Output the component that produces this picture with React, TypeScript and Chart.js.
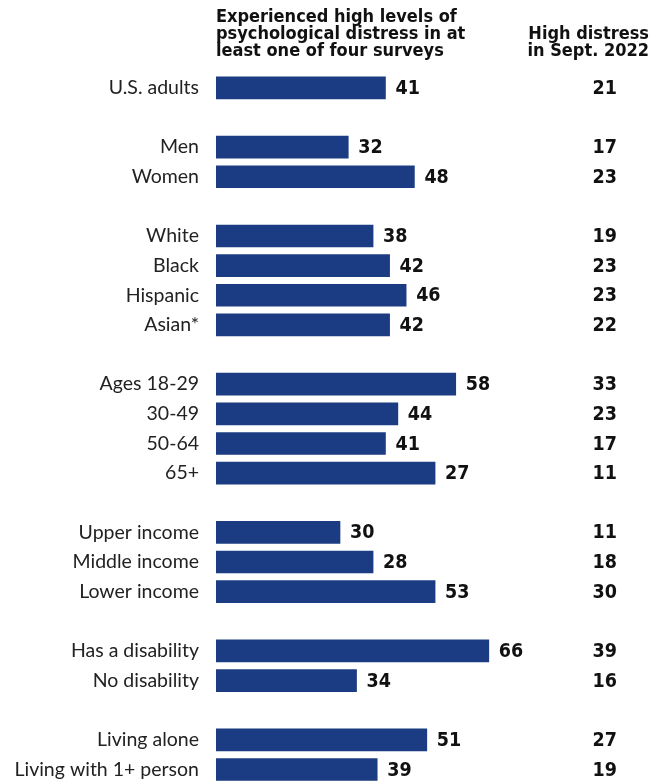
import React, { useEffect, useRef } from "react";
import { Chart, registerables } from "chart.js";

Chart.register(...registerables);

const categories: string[] = [
  "U.S. adults", "",
  "Men", "Women", "",
  "White", "Black", "Hispanic", "Asian*", "",
  "Ages 18-29", "30-49", "50-64", "65+", "",
  "Upper income", "Middle income", "Lower income", "",
  "Has a disability", "No disability", "",
  "Living alone", "Living with 1+ person",
];

// bar lengths as drawn in the picture
const barValues: (number | null)[] = [
  41, null,
  32, 48, null,
  38, 42, 46, 42, null,
  58, 44, 41, 53, null,
  30, 38, 53, null,
  66, 34, null,
  51, 39,
];

// printed numbers next to the bars
const valueLabels: string[] = [
  "41", "",
  "32", "48", "",
  "38", "42", "46", "42", "",
  "58", "44", "41", "27", "",
  "30", "28", "53", "",
  "66", "34", "",
  "51", "39",
];

// right column: high distress in Sept. 2022
const septLabels: string[] = [
  "21", "",
  "17", "23", "",
  "19", "23", "23", "22", "",
  "33", "23", "17", "11", "",
  "11", "18", "30", "",
  "39", "16", "",
  "27", "19",
];

const leftHeader: string[] = [
  "Experienced high levels of",
  "psychological distress in at",
  "least one of four surveys",
];
const rightHeader: string[] = ["High distress", "in Sept. 2022"];

const BAR_COLOR = "#1b3c82";
const BOLD_FONT = "bold 19.5px 'DejaVu Sans Condensed', 'DejaVu Sans', sans-serif";
const HEAD_FONT = "bold 18px 'DejaVu Sans Condensed', 'DejaVu Sans', sans-serif";

const textPlugin = {
  id: "textPlugin",
  afterDatasetsDraw(chart: any) {
    const ctx = chart.ctx;
    const meta = chart.getDatasetMeta(0);
    ctx.save();
    ctx.fillStyle = "#111";
    ctx.textBaseline = "middle";
    ctx.font = BOLD_FONT;
    meta.data.forEach((bar: any, i: number) => {
      if (barValues[i] == null) return;
      ctx.textAlign = "left";
      ctx.fillText(valueLabels[i], bar.x + 10, bar.y + 1);
      ctx.textAlign = "right";
      ctx.fillText(septLabels[i], 617, bar.y + 1);
    });
    ctx.font = HEAD_FONT;
    ctx.textAlign = "left";
    leftHeader.forEach((t, i) => ctx.fillText(t, chart.chartArea.left, 17 + i * 17));
    ctx.textAlign = "right";
    rightHeader.forEach((t, i) => ctx.fillText(t, 649, 34 + i * 17));
    ctx.restore();
  },
};

export default function App() {
  const ref = useRef<HTMLCanvasElement | null>(null);
  useEffect(() => {
    if (!ref.current) return;
    const chart = new Chart(ref.current, {
      type: "bar",
      data: {
        labels: categories,
        datasets: [
          {
            data: barValues as any,
            backgroundColor: BAR_COLOR,
            barThickness: 22,
            categoryPercentage: 1,
          },
        ],
      },
      options: {
        indexAxis: "y",
        animation: false,
        responsive: false,
        maintainAspectRatio: false,
        devicePixelRatio: 1,
        layout: { padding: { top: 73, bottom: 16, left: 0, right: 0 } },
        plugins: { legend: { display: false }, tooltip: { enabled: false } },
        scales: {
          x: { display: false, min: 0, max: 105 },
          y: {
            grid: { display: false, drawTicks: false },
            border: { display: false },
            afterFit: (scale: any) => {
              scale.width = 216;
            },
            ticks: {
              autoSkip: false,
              padding: 17,
              color: "#222",
              font: { family: "Lato", size: 19.5 },
            },
          },
        },
      },
      plugins: [textPlugin],
    });
    return () => chart.destroy();
  }, []);
  return (
    <div style={{ position: "fixed", left: 0, top: 0, width: 650, height: 781, overflow: "hidden", background: "#fff" }}>
      <canvas ref={ref} width={650} height={813} style={{ display: "block", width: 650, height: 813 }} />
    </div>
  );
}
